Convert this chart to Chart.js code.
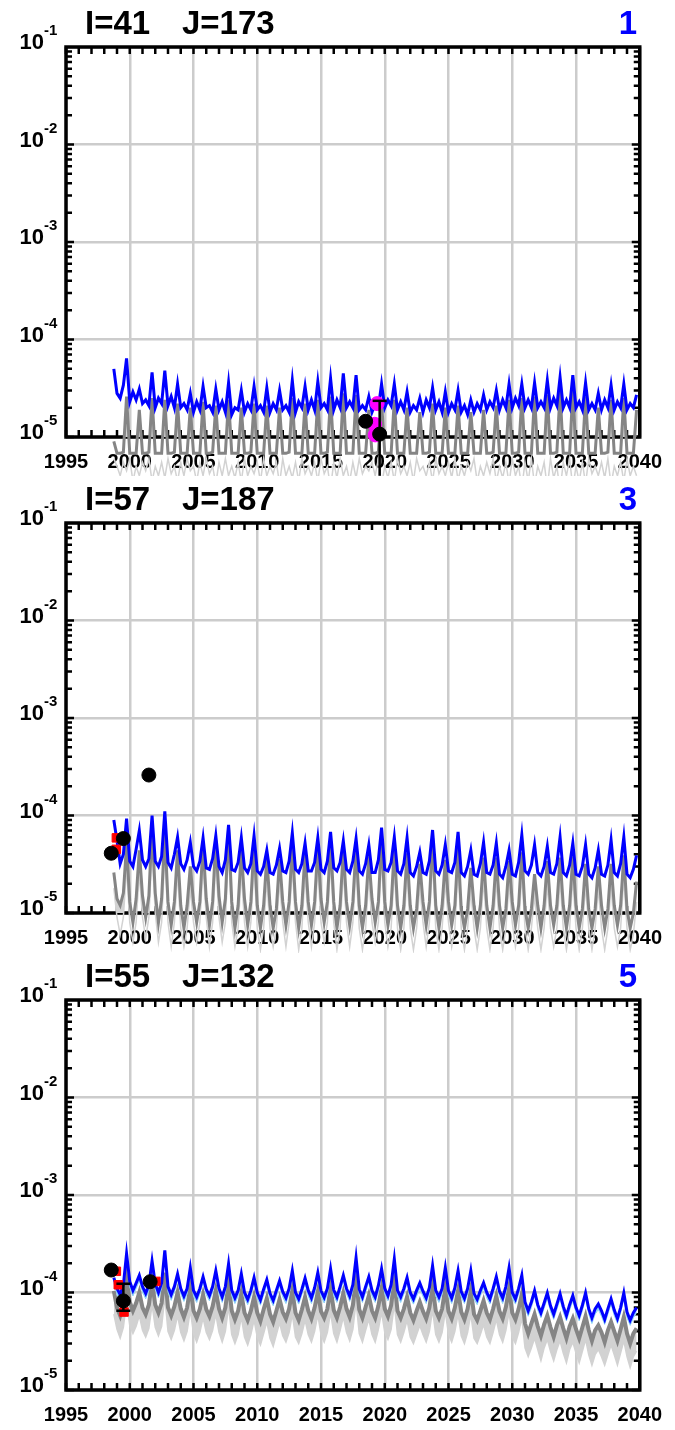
<!DOCTYPE html>
<html>
<head>
<meta charset="utf-8">
<script src="https://cdn.jsdelivr.net/npm/chart.js"></script>
<style>
  html, body { margin: 0; padding: 0; background: #fff; }
  canvas { display: block; }
</style>
</head>
<body>
<canvas id="p1" width="675" height="476"></canvas>
<canvas id="p2" width="675" height="477"></canvas>
<canvas id="p3" width="675" height="477"></canvas>
<script>
// ---- axes ----
const xMin = 1995, xMax = 2040;
const yMin = 1e-5, yMax = 1e-1;
const decadeExps = [-5, -4, -3, -2, -1];
const yearTicks = [];
for (let yr = xMin; yr <= xMax; yr++) yearTicks.push(yr);

// ---- panel headers ----
const panelI = ['I=41', 'I=57', 'I=55'];
const panelJ = ['J=173', 'J=187', 'J=132'];
const panelNum = ['1', '3', '5'];

// series are quarterly, starting at 1998.75, in units of 1e-5
const START = 1998.75, STEP = 0.25, U = 1e-5;

// ---- panel 1 ----
const blue1 = [5.0,
  2.8,2.5,3.4,6.4, 2.3,2.9,2.4,3.1, 2.2,2.4,2.1,4.6, 2.0,2.5,2.2,4.8, 2.1,2.6,2.0,3.5,
  2.0,2.2,1.9,2.8, 1.8,2.3,1.9,3.3, 2.0,2.1,1.8,3.1, 1.9,2.3,1.8,3.6, 1.7,2.0,1.9,3.0,
  1.8,2.2,1.9,3.3, 1.9,2.1,1.8,3.2, 1.8,2.2,1.9,3.0, 1.9,2.1,1.8,3.8, 1.8,2.3,2.0,3.3,
  1.9,2.4,1.9,3.7, 2.0,2.2,1.9,4.0, 1.9,2.4,2.0,4.5, 2.0,2.3,2.0,4.3, 1.9,2.1,1.9,2.6,
  1.8,2.2,2.0,3.5, 2.0,2.4,2.1,3.5, 1.9,2.3,1.9,2.9, 1.8,2.1,1.9,2.5, 1.8,2.4,2.0,3.2,
  1.9,2.3,1.8,2.9, 1.8,2.2,1.9,3.0, 1.8,2.1,1.7,2.4, 1.8,2.2,1.9,2.7, 1.9,2.3,2.0,3.0,
  1.9,2.4,2.0,3.5, 2.0,2.5,2.1,3.5, 2.0,2.4,2.0,3.6, 2.0,2.3,2.0,3.8, 2.0,2.5,2.1,4.1,
  2.0,2.4,2.0,4.3, 2.0,2.3,1.9,3.6, 1.9,2.2,1.9,2.8, 1.9,2.4,2.0,3.4, 1.9,2.3,2.0,3.5,
  1.9,2.2,2.0,2.7];
const gray1 = [0.9,
  0.68,0.68,0.7,2.6, 0.68,0.68,0.68,1.9, 0.68,0.68,0.7,2.5, 0.68,0.68,0.68,2.4, 0.68,0.68,0.7,2.2,
  0.68,0.68,0.68,2.0, 0.68,0.68,0.68,2.3, 0.68,0.68,0.7,2.1, 0.68,0.68,0.68,2.4, 0.68,0.68,0.68,2.0,
  0.68,0.68,0.7,2.2, 0.68,0.68,0.68,2.1, 0.68,0.68,0.68,2.0, 0.68,0.68,0.7,2.5, 0.68,0.68,0.68,2.2,
  0.68,0.68,0.68,2.4, 0.68,0.68,0.7,2.6, 0.68,0.68,0.68,2.8, 0.68,0.68,0.68,2.7, 0.68,0.68,0.68,1.9,
  0.68,0.68,0.7,2.3, 0.68,0.68,0.68,2.4, 0.68,0.68,0.68,2.0, 0.68,0.68,0.68,1.8, 0.68,0.68,0.7,2.2,
  0.68,0.68,0.68,2.0, 0.68,0.68,0.68,2.1, 0.68,0.68,0.68,1.8, 0.68,0.68,0.68,1.9, 0.68,0.68,0.7,2.1,
  0.68,0.68,0.68,2.4, 0.68,0.68,0.7,2.5, 0.68,0.68,0.68,2.6, 0.68,0.68,0.68,2.7, 0.68,0.68,0.7,2.9,
  0.68,0.68,0.68,3.0, 0.68,0.68,0.68,2.6, 0.68,0.68,0.68,2.0, 0.68,0.68,0.7,2.4, 0.68,0.68,0.68,2.5,
  0.68,0.68,0.68,1.9];
const lgray1 = [0.6,
  0.5,0.4,0.55,0.45, 0.6,0.35,0.5,0.4, 0.55,0.45,0.6,0.35, 0.5,0.4,0.55,0.38, 0.6,0.42,0.5,0.35,
  0.55,0.4,0.6,0.45, 0.5,0.35,0.55,0.4, 0.6,0.42,0.5,0.33, 0.55,0.4,0.6,0.4, 0.5,0.38,0.55,0.35,
  0.6,0.4,0.5,0.42, 0.55,0.35,0.6,0.4, 0.5,0.42,0.55,0.33, 0.6,0.4,0.5,0.38, 0.55,0.35,0.6,0.42,
  0.5,0.4,0.55,0.35, 0.6,0.42,0.5,0.3, 0.55,0.38,0.6,0.4, 0.5,0.35,0.55,0.38, 0.6,0.42,0.5,0.45,
  0.55,0.4,0.6,0.32, 0.5,0.38,0.55,0.35, 0.6,0.42,0.5,0.4, 0.55,0.35,0.6,0.45, 0.5,0.4,0.55,0.35,
  0.6,0.42,0.5,0.4, 0.55,0.38,0.6,0.36, 0.5,0.4,0.55,0.45, 0.6,0.35,0.5,0.4, 0.55,0.42,0.6,0.35,
  0.5,0.38,0.55,0.33, 0.6,0.4,0.5,0.3, 0.55,0.35,0.6,0.32, 0.5,0.4,0.55,0.3, 0.6,0.38,0.5,0.28,
  0.55,0.4,0.6,0.3, 0.5,0.35,0.55,0.33, 0.6,0.42,0.5,0.4, 0.55,0.38,0.6,0.32, 0.5,0.4,0.55,0.35,
  0.6,0.4,0.5,0.4];
const dotX1 = [2018.5, 2019.6];
const dotY1 = [1.45e-5, 1.07e-5];
const errX1 = [2019.6], errLo1 = [4.0e-6], errHi1 = [2.35e-5];
const magX1 = [2019.4, 2019.2, 2019.25];
const magY1 = [2.2e-5, 1.35e-5, 1.05e-5];
const magTriX1 = [2019.15], magTriY1 = [6.3e-6];

// ---- panel 2 ----
const blue2 = [9.0,
  5.5,3.2,4.0,9.3, 3.4,3.0,4.5,7.0, 3.5,3.0,3.6,10.0, 3.4,3.0,3.8,11.0, 3.3,2.9,4.0,6.0,
  3.2,2.8,3.5,5.3, 3.0,2.7,3.4,5.9, 2.9,2.8,3.6,6.2, 3.0,2.6,3.5,8.0, 2.8,2.7,3.3,5.9,
  2.9,2.6,3.2,6.2, 2.7,2.5,3.0,4.4, 2.6,2.5,3.1,4.6, 2.7,2.6,3.4,6.6, 2.8,2.6,3.2,5.2,
  2.7,2.7,3.3,5.9, 2.8,2.6,3.4,6.8, 2.9,2.7,3.3,5.5, 2.8,2.6,3.4,5.8, 2.7,2.5,3.2,5.0,
  2.6,2.6,3.5,7.5, 2.8,2.7,3.3,6.0, 2.7,2.5,3.2,5.9, 2.6,2.4,3.0,4.2, 2.6,2.5,3.4,7.1,
  2.7,2.5,3.1,5.0, 2.7,2.6,3.3,6.8, 2.6,2.4,3.0,4.4, 2.5,2.4,3.2,5.3, 2.6,2.5,3.1,5.2,
  2.5,2.3,3.0,4.4, 2.5,2.4,3.3,6.3, 2.7,2.5,3.1,5.0, 2.6,2.4,3.0,4.8, 2.6,2.5,3.2,6.0,
  2.6,2.4,3.1,5.2, 2.5,2.4,3.0,5.0, 2.5,2.3,2.9,4.4, 2.5,2.4,3.1,5.6, 2.6,2.4,3.2,6.0,
  2.5,2.3,2.8,3.9];
const gray2 = [2.6,
  1.4,1.2,1.6,5.0, 1.3,0.8,1.4,4.4, 1.5,0.9,1.5,7.6, 1.6,0.8,1.4,6.8, 1.3,0.75,1.3,4.4,
  1.2,0.7,1.2,3.0, 1.3,0.8,1.3,5.2, 1.4,0.75,1.3,5.6, 1.5,0.8,1.4,7.4, 1.3,0.7,1.2,4.4,
  1.4,0.75,1.3,5.3, 1.2,0.7,1.2,3.7, 1.2,0.7,1.1,3.6, 1.3,0.75,1.3,5.0, 1.3,0.7,1.2,4.2,
  1.3,0.75,1.3,4.8, 1.4,0.8,1.3,5.5, 1.3,0.7,1.2,4.5, 1.3,0.75,1.3,4.8, 1.2,0.7,1.2,3.8,
  1.4,0.8,1.3,6.0, 1.3,0.75,1.2,4.6, 1.2,0.7,1.2,4.1, 1.2,0.7,1.1,3.2, 1.3,0.75,1.3,5.9,
  1.2,0.7,1.2,3.5, 1.3,0.75,1.2,4.6, 1.1,0.7,1.1,2.9, 1.2,0.7,1.2,3.7, 1.2,0.7,1.2,3.7,
  1.2,0.7,1.1,3.4, 1.3,0.75,1.2,4.2, 1.1,0.7,1.1,2.5, 1.2,0.7,1.2,3.4, 1.2,0.75,1.2,3.7,
  1.2,0.7,1.2,3.8, 1.2,0.7,1.1,3.2, 1.1,0.7,1.1,3.0, 1.2,0.7,1.1,3.2, 1.2,0.75,1.2,3.9,
  1.1,0.7,1.0,2.1];
const lgray2 = [1.8,
  0.9,0.6,0.9,3.0, 0.8,0.5,0.8,2.6, 0.9,0.55,0.9,4.5, 1.0,0.5,0.8,4.0, 0.8,0.45,0.8,2.6,
  0.7,0.45,0.7,1.8, 0.8,0.5,0.8,3.1, 0.9,0.45,0.8,3.3, 0.9,0.5,0.8,4.4, 0.8,0.45,0.7,2.6,
  0.8,0.45,0.8,3.2, 0.7,0.42,0.7,2.2, 0.7,0.45,0.7,2.1, 0.8,0.45,0.8,3.0, 0.8,0.42,0.7,2.5,
  0.8,0.45,0.8,2.9, 0.8,0.5,0.8,3.3, 0.8,0.42,0.7,2.7, 0.8,0.45,0.8,2.9, 0.7,0.42,0.7,2.3,
  0.8,0.5,0.8,3.6, 0.8,0.45,0.7,2.8, 0.7,0.42,0.7,2.5, 0.7,0.42,0.7,1.9, 0.8,0.45,0.8,3.5,
  0.7,0.42,0.7,2.1, 0.8,0.45,0.7,2.8, 0.7,0.42,0.7,1.7, 0.7,0.42,0.7,2.2, 0.7,0.42,0.7,2.2,
  0.7,0.42,0.7,2.0, 0.8,0.45,0.7,2.5, 0.7,0.42,0.7,1.5, 0.7,0.42,0.7,2.0, 0.7,0.45,0.7,2.2,
  0.7,0.42,0.7,2.3, 0.7,0.42,0.7,1.9, 0.7,0.42,0.7,1.8, 0.7,0.42,0.7,1.9, 0.7,0.45,0.7,2.3,
  0.7,0.42,0.6,1.3];
const dotX2 = [1998.55, 1999.5, 2001.5];
const dotY2 = [4.1e-5, 5.8e-5, 2.6e-4];
const redX2 = [1998.95, 1998.95];
const redY2 = [5.9e-5, 4.5e-5];

// ---- panel 3 ----
const blue3 = [14.2,
  11.0,9.5,12.0,25.0, 13.0,10.5,12.5,15.0, 11.5,9.8,12.0,21.0, 12.3,10.0,12.5,27.0, 11.5,9.5,11.5,15.5,
  11.0,9.2,11.0,17.9, 10.5,9.0,11.0,14.5, 10.8,9.3,11.5,16.7, 11.0,9.0,11.5,19.7, 10.5,8.8,10.5,15.5,
  10.0,8.5,10.5,14.2, 10.0,8.4,10.8,13.5, 9.8,8.3,10.5,13.2, 10.2,8.8,11.0,16.7, 10.0,8.6,10.8,14.0,
  10.5,8.8,11.2,16.0, 10.4,8.9,11.0,17.5, 10.6,9.0,11.5,15.0, 11.0,9.2,12.0,22.7, 10.8,9.0,11.5,14.5,
  10.5,9.0,11.8,17.5, 11.0,9.3,12.0,22.0, 10.5,9.0,11.0,14.2, 10.0,8.6,10.5,12.5, 10.3,8.8,11.2,18.8,
  10.5,9.0,11.0,18.0, 10.4,8.8,11.2,16.7, 10.2,8.7,11.0,16.7, 9.8,8.5,10.5,12.6, 10.0,8.6,11.0,14.5,
  10.3,8.8,11.5,17.9, 10.0,8.6,11.0,15.0, 8.0,6.5,8.0,10.4, 7.5,6.2,7.8,9.9, 7.3,6.0,7.6,9.7,
  7.2,5.8,7.5,9.3, 7.0,5.8,7.4,9.9, 6.8,5.5,6.8,7.6, 6.5,5.3,6.8,8.6, 6.6,5.4,7.0,9.9,
  6.3,5.2,6.2,7.0];
const lblue3 = [12.5,
  9.6,8.3,10.5,21.5, 11.4,9.2,11.0,13.2, 10.1,8.6,10.5,18.4, 10.8,8.8,11.0,23.5, 10.1,8.3,10.1,13.6,
  9.7,8.1,9.7,15.7, 9.2,7.9,9.7,12.8, 9.5,8.2,10.1,14.7, 9.7,7.9,10.1,17.3, 9.2,7.7,9.2,13.6,
  8.8,7.5,9.2,12.5, 8.8,7.4,9.5,11.9, 8.6,7.3,9.2,11.6, 9.0,7.7,9.7,14.7, 8.8,7.6,9.5,12.3,
  9.2,7.7,9.9,14.1, 9.2,7.8,9.7,15.4, 9.3,7.9,10.1,13.2, 9.7,8.1,10.6,20.0, 9.5,7.9,10.1,12.8,
  9.2,7.9,10.4,15.4, 9.7,8.2,10.6,19.4, 9.2,7.9,9.7,12.5, 8.8,7.6,9.2,11.0, 9.1,7.7,9.9,16.5,
  9.2,7.9,9.7,15.8, 9.2,7.7,9.9,14.7, 9.0,7.7,9.7,14.7, 8.6,7.5,9.2,11.1, 8.8,7.6,9.7,12.8,
  9.1,7.7,10.1,15.8, 8.8,7.6,9.7,13.2, 7.0,5.7,7.0,9.2, 6.6,5.5,6.9,8.7, 6.4,5.3,6.7,8.5,
  6.3,5.1,6.6,8.2, 6.2,5.1,6.5,8.7, 6.0,4.8,6.0,6.7, 5.7,4.7,6.0,7.6, 5.8,4.8,6.2,8.7,
  5.5,4.6,5.5,6.2];
const gray3 = [10.4,
  7.0,5.8,7.5,14.0, 8.0,6.5,7.8,10.0, 7.0,6.0,7.5,13.0, 7.5,6.2,7.8,16.0, 7.0,5.8,7.2,10.0,
  6.8,5.6,7.0,11.5, 6.5,5.5,6.8,9.5, 6.7,5.7,7.2,10.5, 6.8,5.5,7.0,12.5, 6.5,5.3,6.5,9.8,
  6.2,5.2,6.5,9.0, 6.2,5.1,6.7,8.7, 6.0,5.0,6.5,8.5, 6.3,5.4,6.8,10.5, 6.2,5.2,6.7,9.0,
  6.5,5.4,7.0,10.2, 6.4,5.5,6.8,11.0, 6.6,5.5,7.1,9.8, 6.8,5.6,7.4,14.0, 6.7,5.5,7.1,9.3,
  6.5,5.5,7.3,11.0, 6.8,5.7,7.4,13.5, 6.5,5.5,6.8,9.0, 6.2,5.2,6.5,8.0, 6.4,5.4,7.0,11.5,
  6.5,5.5,6.8,11.2, 6.4,5.4,7.0,10.5, 6.3,5.3,6.8,10.5, 6.0,5.2,6.5,8.2, 6.2,5.3,6.8,9.2,
  6.4,5.4,7.1,11.0, 6.2,5.3,6.8,9.6, 4.8,3.8,4.8,6.0, 4.5,3.6,4.7,5.8, 4.4,3.5,4.6,5.6,
  4.3,3.4,4.5,5.4, 4.2,3.4,4.4,5.7, 4.1,3.2,4.1,4.6, 3.9,3.1,4.1,5.0, 4.0,3.2,4.2,5.6,
  3.8,3.0,3.8,4.3];
const lgray3 = [6.0,
  4.2,3.4,4.4,8.0, 4.6,3.8,4.5,5.8, 4.1,3.5,4.3,7.5, 4.4,3.6,4.5,9.0, 4.0,3.3,4.1,5.8,
  3.9,3.2,4.0,6.6, 3.8,3.1,3.9,5.5, 3.9,3.3,4.1,6.0, 3.9,3.1,4.0,7.2, 3.7,3.0,3.7,5.6,
  3.5,2.9,3.7,5.2, 3.5,2.9,3.8,5.0, 3.4,2.8,3.7,4.9, 3.6,3.1,3.9,6.0, 3.5,3.0,3.8,5.2,
  3.7,3.1,4.0,5.9, 3.7,3.1,3.9,6.3, 3.8,3.1,4.1,5.6, 3.9,3.2,4.2,8.0, 3.8,3.1,4.1,5.3,
  3.7,3.1,4.2,6.3, 3.9,3.3,4.2,7.7, 3.7,3.1,3.9,5.2, 3.5,3.0,3.7,4.6, 3.7,3.1,4.0,6.6,
  3.7,3.1,3.9,6.4, 3.7,3.1,4.0,6.0, 3.6,3.0,3.9,6.0, 3.4,3.0,3.7,4.7, 3.5,3.0,3.9,5.3,
  3.7,3.1,4.1,6.3, 3.5,3.0,3.9,5.5, 2.7,2.2,2.7,3.4, 2.6,2.0,2.7,3.3, 2.5,2.0,2.6,3.2,
  2.4,1.9,2.6,3.1, 2.4,1.9,2.5,3.3, 2.3,1.8,2.3,2.6, 2.2,1.8,2.3,2.9, 2.3,1.8,2.4,3.2,
  2.2,1.7,2.2,2.5];
const dotX3 = [1998.55, 1999.5, 2001.6];
const dotY3 = [1.7e-4, 8.2e-5, 1.29e-4];
const errX3 = [1999.5], errLo3 = [6.5e-5], errHi3 = [1.23e-4];
const redX3 = [1998.95, 1999.1, 1999.55, 2002.05];
const redY3 = [1.65e-4, 1.2e-4, 6.3e-5, 1.3e-4];

// ---- helpers ----
const FONT = '"Liberation Sans", Arial, sans-serif';

function series(vals) {
  return vals.map((v, i) => ({ x: START + i * STEP, y: v * U }));
}
function pts(xs, ys) {
  return xs.map((x, i) => ({ x, y: ys[i] }));
}

function lineSet(vals, color, width, extra) {
  return Object.assign({
    data: series(vals), borderColor: color, borderWidth: width,
    pointRadius: 0, tension: 0, fill: false, clip: false
  }, extra || {});
}
function markerSet(xs, ys, color, style, radius, rotation) {
  return {
    data: pts(xs, ys), showLine: false, clip: false,
    pointStyle: style, pointRadius: radius, pointRotation: rotation || 0,
    pointBackgroundColor: color, pointBorderColor: color, pointBorderWidth: 1
  };
}
function errSet(x, lo, hi) {
  return {
    data: [{ x, y: lo }, { x, y: hi }], clip: false,
    borderColor: '#000', borderWidth: 2.5,
    pointStyle: 'line', pointRadius: 7, pointBorderWidth: 2.5,
    pointBorderColor: '#000'
  };
}

const framePlugin = {
  id: 'frame',
  beforeDatasetsDraw(chart) {
    const { ctx, chartArea: a, scales: { x, y } } = chart;
    ctx.save();
    ctx.strokeStyle = '#000';
    ctx.lineWidth = 2.5;
    ctx.beginPath();
    yearTicks.forEach(yr => {
      const px = x.getPixelForValue(yr);
      ctx.moveTo(px, a.bottom); ctx.lineTo(px, a.bottom - 7);
      ctx.moveTo(px, a.top); ctx.lineTo(px, a.top + 7);
    });
    decadeExps.slice(0, -1).forEach(e => {
      for (let m = 1; m <= 9; m++) {
        const py = y.getPixelForValue(m * Math.pow(10, e));
        const len = m === 1 ? 8 : 6;
        ctx.moveTo(a.left, py); ctx.lineTo(a.left + len, py);
        ctx.moveTo(a.right, py); ctx.lineTo(a.right - len, py);
      }
    });
    ctx.stroke();
    ctx.lineWidth = 3.5;
    ctx.strokeRect(a.left, a.top, a.right - a.left, a.bottom - a.top);
    ctx.restore();
  },
  afterDraw(chart, args, opts) {
    const { ctx, scales: { y } } = chart;
    ctx.save();
    ctx.fillStyle = '#000';
    ctx.textBaseline = 'alphabetic';
    decadeExps.forEach(e => {
      const py = y.getPixelForValue(Math.pow(10, e));
      ctx.font = 'bold 22px ' + FONT;
      ctx.textAlign = 'right';
      ctx.fillText('10', 44, py + 2);
      ctx.font = 'bold 15px ' + FONT;
      ctx.textAlign = 'left';
      ctx.fillText(String(e), 44, py - 12);
    });
    ctx.font = 'bold 33px ' + FONT;
    ctx.textAlign = 'left';
    ctx.fillText(opts.i, 85, 34);
    ctx.fillText(opts.j, 182, 34);
    ctx.fillStyle = '#0000ff';
    ctx.textAlign = 'right';
    ctx.fillText(opts.n, 637, 34);
    ctx.restore();
  }
};

function makeChart(id, k, datasets) {
  return new Chart(document.getElementById(id), {
    type: 'line',
    data: { datasets },
    options: {
      responsive: false,
      animation: false,
      events: [],
      layout: { padding: { top: 47, right: 30, left: 0, bottom: 0 } },
      plugins: {
        legend: { display: false },
        tooltip: { enabled: false },
        frame: { i: panelI[k], j: panelJ[k], n: panelNum[k] }
      },
      scales: {
        x: {
          type: 'linear', min: xMin, max: xMax,
          afterBuildTicks: s => { s.ticks = yearTicks.map(v => ({ value: v })); },
          afterFit: s => { s.height = s.chart.height - 437; },
          grid: {
            drawTicks: false, lineWidth: 2.5,
            color: c => (c.tick && c.tick.value % 5 === 0) ? '#cccccc' : 'rgba(0,0,0,0)'
          },
          border: { display: false },
          ticks: {
            autoSkip: false, maxRotation: 0, padding: 13, color: '#000',
            font: { family: FONT, size: 20, weight: 'bold' },
            callback: v => (v % 5 === 0 ? String(v) : '')
          }
        },
        y: {
          type: 'logarithmic', min: yMin, max: yMax,
          afterBuildTicks: s => { s.ticks = decadeExps.map(e => ({ value: Math.pow(10, e) })); },
          afterFit: s => { s.width = 66; },
          grid: { drawTicks: false, lineWidth: 2.5, color: '#cccccc' },
          border: { display: false },
          ticks: { display: false }
        }
      }
    },
    plugins: [framePlugin]
  });
}

const BLUE = '#0000ff', GRAY = '#858585', LGRAY = '#d2d2d2', LBLUE = '#8fd3f7';

// panel 1: 0 dots, 1 err, 2 magenta, 3 magenta tri, 4 blue, 5 gray, 6 light gray
makeChart('p1', 0, [
  markerSet(dotX1, dotY1, '#000', 'circle', 7),
  errSet(errX1[0], errLo1[0], errHi1[0]),
  markerSet(magX1, magY1, '#ff00ff', 'circle', 7),
  markerSet(magTriX1, magTriY1, '#ff00ff', 'triangle', 7, 180),
  lineSet(blue1, BLUE, 3),
  lineSet(gray1, GRAY, 3),
  lineSet(lgray1, LGRAY, 1.5, { fill: 5, backgroundColor: LGRAY })
]);

// panel 2: 0 dots, 1 red, 2 blue, 3 gray, 4 light gray
makeChart('p2', 1, [
  markerSet(dotX2, dotY2, '#000', 'circle', 7),
  markerSet(redX2, redY2, '#ff0000', 'rect', 6),
  lineSet(blue2, BLUE, 3),
  lineSet(gray2, GRAY, 3),
  lineSet(lgray2, LGRAY, 1.5, { fill: 3, backgroundColor: LGRAY })
]);

// panel 3: 0 dots, 1 err, 2 red, 3 blue, 4 light blue, 5 gray, 6 light gray
makeChart('p3', 2, [
  markerSet(dotX3, dotY3, '#000', 'circle', 7),
  errSet(errX3[0], errLo3[0], errHi3[0]),
  markerSet(redX3, redY3, '#ff0000', 'rect', 6),
  lineSet(blue3, BLUE, 3),
  lineSet(lblue3, LBLUE, 1, { fill: 3, backgroundColor: LBLUE }),
  lineSet(gray3, GRAY, 4),
  lineSet(lgray3, LGRAY, 1.5, { fill: 5, backgroundColor: LGRAY })
]);
</script>
</body>
</html>
